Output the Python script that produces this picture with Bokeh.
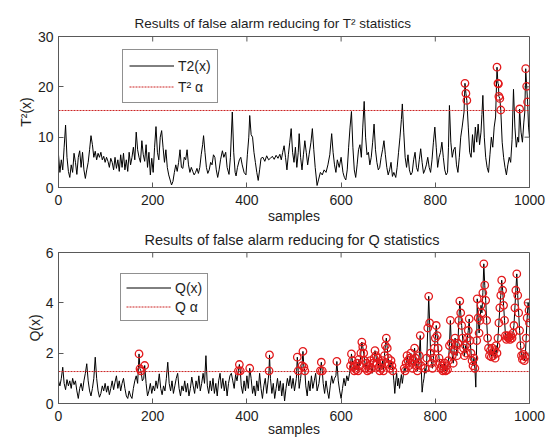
from bokeh.plotting import figure
from bokeh.models import Range1d, FixedTicker, Legend, LegendItem
from bokeh.layouts import column
from bokeh.embed import file_html
from bokeh.resources import INLINE

# ---------------- data ----------------
t2_samples = [0, 3, 6, 9, 12, 15, 18, 21, 24, 27, 30, 33, 36, 39, 42, 45, 48, 51, 54, 57,
              60, 63, 66, 69, 72, 75, 78, 81, 84, 87, 90, 93, 96, 99, 102, 105, 108, 111, 114, 117,
              120, 123, 126, 129, 132, 135, 138, 141, 144, 147, 150, 153, 156, 159, 162, 165, 168, 171, 174, 177,
              180, 183, 186, 189, 192, 195, 198, 201, 204, 207, 210, 213, 216, 219, 222, 225, 228, 231, 234, 237,
              240, 243, 246, 249, 252, 255, 258, 261, 264, 267, 270, 273, 276, 279, 282, 285, 288, 291, 294, 297,
              300, 303, 306, 308, 311, 314, 317, 320, 323, 326, 329, 332, 335, 338, 341, 344, 348, 351, 355, 358,
              362, 365, 369, 372, 375, 377, 380, 384, 387, 390, 394, 398, 401, 404, 406, 409, 412, 415, 418, 421,
              424, 427, 430, 434, 438, 442, 446, 450, 454, 458, 462, 466, 470, 473, 476, 479, 482, 485, 488, 491,
              494, 497, 500, 503, 506, 509, 511, 514, 517, 520, 523, 526, 529, 532, 536, 539, 542, 545, 549, 552,
              556, 560, 564, 568, 572, 576, 580, 583, 586, 589, 592, 596, 600, 604, 607, 610, 613, 616, 619, 622,
              625, 628, 631, 634, 637, 640, 643, 646, 649, 652, 655, 658, 661, 664, 667, 670, 673, 676, 679, 682,
              685, 688, 691, 694, 697, 700, 703, 706, 709, 712, 716, 719, 722, 725, 728, 730, 733, 736, 739, 742,
              745, 748, 751, 754, 757, 760, 763, 766, 769, 772, 775, 778, 781, 784, 787, 790, 793, 796, 799, 802,
              805, 808, 811, 814, 817, 820, 823, 826, 828, 830, 833, 836, 839, 842, 845, 848, 851, 854, 857, 861,
              863, 865, 867, 870, 873, 876, 879, 882, 885, 888, 891, 894, 897, 899, 901, 904, 907, 910, 913, 916,
              919, 922, 925, 928, 931, 933, 934, 935, 937, 939, 942, 945, 948, 951, 954, 957, 960, 963, 966, 969,
              972, 975, 977, 979, 982, 985, 988, 990, 992, 994, 996, 998, 1000]
t2_values = [6.5, 3.0, 5.5, 3.5, 8.0, 12.4, 6.0, 3.2, 2.0, 4.5, 3.0, 6.8, 5.0, 2.6, 6.0, 7.3, 4.0, 7.0, 3.5, 1.8,
             3.5, 5.0, 7.5, 10.3, 8.5, 6.0, 7.2, 5.5, 6.8, 6.0, 7.0, 5.5, 6.2, 5.0, 6.0, 5.2, 4.0, 5.8, 5.0, 3.5,
             6.0, 3.8, 5.5, 3.2, 6.5, 4.0, 6.8, 3.5, 5.5, 3.2, 7.0, 4.5, 6.0, 8.0, 5.5, 11.0, 7.5, 6.0, 5.0, 9.3,
             6.5, 5.2, 8.5, 4.0, 7.0, 2.5, 5.8, 3.0, 8.0, 12.1, 7.0, 5.5, 10.0, 11.3, 8.0, 5.0, 7.5, 4.0, 2.5, 1.5,
             0.5, 1.2, 3.0, 4.5, 3.2, 5.0, 7.5, 4.0, 3.8, 6.0, 5.5, 7.5, 4.5, 3.0, 4.0, 3.2, 2.5, 3.0, 3.8, 2.8,
             4.0, 6.5, 8.5, 10.3, 7.0, 4.0, 2.8, 3.5, 5.0, 4.5, 6.5, 6.0, 3.5, 2.0, 3.5, 5.5, 7.3, 6.0, 7.0, 4.0,
             2.6, 6.0, 15.0, 7.0, 3.0, 2.3, 4.0, 5.5, 6.0, 4.5, 3.0, 2.5, 6.5, 10.0, 14.3, 10.5, 10.0, 7.0, 5.0, 3.0,
             1.4, 3.5, 5.8, 6.0, 5.2, 6.3, 5.5, 5.8, 6.2, 5.6, 6.4, 5.8, 6.6, 5.5, 7.0, 8.3, 6.0, 3.5, 6.5, 9.0,
             11.7, 7.0, 5.0, 8.0, 4.0, 7.0, 10.7, 6.0, 3.5, 6.5, 9.3, 7.0, 4.5, 6.5, 9.0, 11.7, 7.5, 4.0, 0.4, 1.5,
             3.0, 2.5, 3.5, 3.0, 4.5, 6.5, 10.7, 7.0, 4.5, 3.0, 5.5, 4.0, 6.0, 3.0, 2.0, 1.5, 3.5, 8.0, 12.0, 15.1,
             8.0, 3.5, 2.0, 4.5, 7.5, 8.5, 6.0, 12.0, 17.1, 10.0, 6.5, 7.0, 4.5, 6.0, 9.0, 12.6, 7.5, 5.0, 3.5, 4.0,
             6.0, 7.5, 9.3, 6.5, 4.0, 2.5, 3.5, 5.0, 2.2, 3.0, 2.0, 4.0, 7.0, 10.0, 13.5, 16.6, 11.0, 6.0, 4.0, 6.5,
             3.5, 2.5, 3.0, 5.5, 7.0, 4.0, 3.2, 5.5, 7.7, 5.0, 2.8, 3.5, 4.5, 6.0, 4.0, 3.0, 5.5, 9.0, 12.0, 8.0,
             4.0, 6.0, 7.0, 9.0, 6.0, 3.5, 2.5, 3.0, 8.0, 16.3, 9.0, 6.0, 7.5, 8.0, 4.5, 3.0, 6.0, 10.0, 12.0, 15.0,
             20.7, 18.7, 17.3, 12.0, 7.0, 6.0, 10.5, 7.0, 12.0, 9.0, 12.6, 8.5, 11.0, 14.5, 18.3, 10.0, 6.0, 4.0, 3.0, 6.5,
             10.0, 8.0, 12.0, 14.0, 23.9, 20.7, 20.6, 18.1, 17.7, 15.4, 9.0, 6.0, 4.0, 2.5, 4.5, 6.0, 5.0, 9.5, 19.5, 12.0,
             8.0, 10.0, 9.0, 15.6, 11.0, 9.0, 13.0, 15.0, 23.6, 20.1, 17.0, 12.0, 10.0]
t2_limit = 15.3
t2_rejected = [649, 730, 830, 901, 966]

q_samples = [0, 3, 6, 9, 12, 15, 18, 21, 24, 27, 30, 33, 36, 39, 42, 45, 48, 51, 54, 57,
             60, 63, 66, 69, 72, 75, 78, 81, 84, 87, 90, 93, 96, 99, 102, 105, 108, 111, 114, 117,
             120, 123, 126, 129, 132, 135, 138, 141, 144, 147, 150, 153, 156, 159, 162, 165, 168, 171, 173, 175,
             178, 181, 183, 186, 189, 192, 195, 198, 201, 204, 207, 210, 214, 217, 220, 223, 226, 229, 232, 235,
             238, 241, 244, 247, 250, 253, 256, 259, 262, 265, 268, 271, 274, 277, 280, 283, 286, 289, 292, 295,
             298, 301, 304, 307, 310, 313, 316, 319, 322, 325, 328, 331, 334, 337, 340, 343, 346, 349, 352, 355,
             358, 361, 364, 367, 370, 373, 376, 379, 382, 384, 386, 388, 391, 394, 397, 400, 403, 406, 409, 412,
             415, 418, 421, 424, 427, 430, 433, 436, 439, 442, 445, 447, 448, 450, 453, 456, 459, 462, 465, 468,
             471, 474, 477, 480, 483, 486, 489, 492, 495, 498, 501, 505, 507, 509, 511, 514, 517, 519, 521, 523,
             525, 528, 531, 534, 537, 540, 543, 546, 549, 553, 556, 558, 560, 562, 565, 568, 571, 574, 577, 580,
             583, 586, 589, 591, 594, 597, 600, 603, 606, 609, 612, 615, 618,
             620, 622, 624, 626, 628, 630, 632, 634, 636, 638, 640, 642, 644, 646, 648, 650, 652, 654, 656, 658,
             660, 662, 664, 666, 668, 670, 672, 674, 676, 678, 680, 682, 684, 686, 688, 690, 692, 694, 696, 698,
             700, 702, 704, 706, 708, 710, 712, 714, 716, 718, 720, 722, 724, 726, 728, 730, 732, 734, 736, 738,
             740, 742, 744, 746, 748, 750, 752, 754, 756, 758, 760, 762, 764, 766, 768, 770, 772, 774, 776, 778,
             780, 782, 784, 786, 788, 790, 792, 794, 796, 798, 800, 802, 804, 806, 808, 810, 812, 814, 816, 818,
             820, 822, 824, 826, 828, 830, 832, 834, 836, 838, 840, 842, 844, 846, 848, 850, 852, 854, 856, 858,
             860, 862, 864, 866, 868, 870, 872, 874, 876, 878, 880, 882, 884, 886, 888, 889, 891, 893, 895, 897,
             899, 901, 903, 905, 907, 909, 911, 913, 915, 917, 919, 921, 923, 925, 927, 929, 931, 933, 935, 937,
             939, 941, 943, 945, 947, 949, 951, 953, 955, 957, 959, 961, 963, 965, 967, 969, 971, 973, 975, 977,
             979, 981, 983, 985, 987, 989, 991, 993, 995, 997, 999, 1000]
q_values = [0.9, 0.7, 1.0, 1.44, 0.8, 0.55, 0.95, 0.7, 0.9, 0.6, 1.0, 0.75, 0.9, 0.5, 0.2, 0.6, 0.8, 0.5, 0.9, 1.2,
            1.58, 0.9, 0.5, 0.3, 0.6, 1.0, 1.84, 1.0, 0.5, 0.25, 0.4, 0.7, 0.5, 0.8, 0.45, 0.7, 0.35, 0.6, 0.9, 0.55,
            0.85, 1.1, 0.6, 0.9, 0.5, 0.8, 1.0, 0.6, 0.3, 0.2, 0.5, 0.3, 0.2, 0.6, 0.9, 1.1, 0.8, 1.97, 1.38, 1.3,
            0.9, 1.0, 1.51, 0.8, 0.3, 0.5, 0.8, 0.4, 0.7, 0.5, 0.9, 0.6, 1.18, 0.6, 0.35, 0.7, 0.5, 1.0, 1.64, 0.8,
            0.5, 0.9, 0.4, 0.7, 1.0, 1.2, 0.6, 0.3, 0.7, 0.5, 0.9, 0.45, 0.8, 0.3, 0.6, 1.05, 0.7, 0.4, 0.9, 0.6,
            1.1, 0.5, 0.8, 1.2, 0.8, 1.9, 0.7, 0.4, 0.9, 0.5, 1.0, 0.4, 0.8, 0.3, 0.9, 1.2, 0.6, 1.0, 0.5, 0.9,
            0.3, 0.8, 1.1, 1.2, 0.9, 0.6, 1.15, 0.9, 1.3, 1.55, 1.3, 0.7, 0.4, 0.9, 0.5, 1.1, 0.6, 1.4, 1.0, 0.4,
            0.7, 0.3, 0.9, 0.5, 1.2, 0.6, 0.2, 0.7, 1.0, 0.4, 0.9, 1.3, 1.93, 1.0, 0.4, 0.8, 0.2, 0.6, 1.0, 0.5,
            0.9, 0.3, 0.8, 0.1, 0.6, 1.0, 0.7, 1.1, 0.6, 1.0, 0.5, 1.0, 1.84, 1.3, 0.6, 1.0, 1.5, 2.07, 1.45, 1.3,
            0.7, 0.3, 0.9, 0.5, 1.1, 0.6, 0.9, 1.2, 0.5, 0.8, 1.3, 1.64, 1.3, 0.8, 0.4, 0.9, 0.5, 0.2, 0.7, 1.1,
            0.8, 1.0, 1.1, 1.67, 0.9, 0.5, 0.2, 0.6, 1.0, 0.7, 1.1, 0.9, 1.2,
            1.5, 1.97, 1.7, 1.45, 1.3, 1.5, 1.35, 1.6, 1.3, 1.75, 1.5, 2.0, 2.44, 2.25, 2.0, 1.7, 1.4, 1.6, 1.3, 1.5,
            1.35, 1.7, 1.4, 1.2, 1.6, 1.8, 2.1, 1.9, 1.6, 1.8, 1.45, 1.3, 1.6, 1.4, 1.7, 1.3, 1.9, 2.3, 2.6, 2.2,
            1.8, 1.55, 1.4, 1.7, 1.5, 1.3, 0.9, 0.4, 0.9, 1.2, 0.7, 1.0, 0.6, 0.9, 1.15, 0.8, 1.1, 1.4, 1.3, 1.6,
            1.9, 1.7, 1.5, 1.8, 2.0, 1.6, 1.4, 1.7, 2.2, 1.8, 1.5, 1.3, 1.6, 1.9, 2.7, 1.5, 0.45, 0.8, 1.0, 1.4,
            1.2, 1.8, 3.0, 4.26, 3.2, 2.0, 1.6, 1.4, 1.8, 2.2, 2.6, 3.1, 2.7, 2.2, 1.8, 1.6, 1.4, 1.5, 1.3, 1.35,
            1.6, 1.3, 1.5, 1.35, 1.7, 2.3, 3.3, 2.4, 1.9, 1.6, 2.1, 2.6, 2.3, 1.9, 2.4, 3.3, 4.07, 3.6, 3.1, 2.6,
            2.2, 1.9, 2.3, 2.0, 2.6, 2.9, 3.36, 2.5, 2.0, 1.7, 1.5, 1.8, 1.4, 0.65, 2.5, 4.16, 3.4, 2.8, 3.3, 3.9,
            3.6, 4.4, 5.55, 4.7, 4.1, 3.3, 2.6, 2.2, 1.9, 2.1, 1.85, 2.2, 1.9, 2.1, 1.8, 2.3, 2.0, 2.6, 3.2, 3.8,
            4.3, 4.9, 4.5, 3.9, 3.3, 2.7, 2.55, 2.7, 2.6, 2.65, 2.55, 2.7, 2.6, 2.8, 3.1, 3.8, 4.5, 5.15, 4.3, 3.6,
            2.9, 2.3, 1.9, 1.75, 1.95, 1.7, 1.85, 2.6, 3.4, 4.0, 3.7, 3.2]
q_limit = 1.27
q_rejected = [9, 60, 78, 232, 313]

x_ticks = [0, 200, 400, 600, 800, 1000]
t2_ticks = [0, 10, 20, 30]
q_ticks = [0, 2, 4, 6]

# ---------------- styling ----------------
FONT = "Liberation Sans"
GRAY = "#595959"
TXT = "#1e1e1e"
RED = "#e31a1c"
LIMIT_RED = "#cc2222"
FRAME_W = 471
FRAME_H = 151
TICK_PX = 5


def style_axis(ax, ticks):
    ax.ticker = FixedTicker(ticks=ticks)
    ax.axis_line_color = GRAY
    ax.major_tick_line_color = GRAY
    ax.major_tick_in = TICK_PX
    ax.major_tick_out = 0
    ax.minor_tick_line_color = None
    ax.major_label_text_font = FONT
    ax.major_label_text_font_size = "14px"
    ax.major_label_text_color = TXT
    ax.axis_label_text_font = FONT
    ax.axis_label_text_font_size = "14px"
    ax.axis_label_text_font_style = "normal"
    ax.axis_label_text_color = TXT


def make_panel(samples, values, limit, rejected, yticks, title, title_size, title_offset,
               title_standoff, title_valign, ylabel, line_label, limit_label, legend_xy, height,
               border_top, border_bottom, ylabel_standoff, xlabel_standoff,
               xmajor_standoff, leg_h, leg_pad, leg_sp):
    xmin, xmax = x_ticks[0], x_ticks[-1]
    ymin, ymax = yticks[0], yticks[-1]
    p = figure(width=548, height=height, output_backend="svg", toolbar_location=None,
               x_range=Range1d(xmin, xmax), y_range=Range1d(ymin, ymax),
               min_border_left=58, min_border_right=19,
               min_border_top=border_top, min_border_bottom=border_bottom)
    p.grid.visible = False
    p.outline_line_color = GRAY
    p.background_fill_color = "white"
    p.border_fill_color = "white"

    style_axis(p.xaxis[0], x_ticks)
    style_axis(p.yaxis[0], yticks)
    p.xaxis[0].axis_label = "samples"
    p.xaxis[0].major_label_standoff = xmajor_standoff
    p.xaxis[0].axis_label_standoff = xlabel_standoff
    p.yaxis[0].axis_label = ylabel
    p.yaxis[0].major_label_standoff = 5
    p.yaxis[0].axis_label_standoff = ylabel_standoff

    # inward tick marks on the top and right edges of the box
    dy = TICK_PX / FRAME_H * (ymax - ymin)
    dx = TICK_PX / FRAME_W * (xmax - xmin)
    p.segment(x0=x_ticks, y0=[ymax] * len(x_ticks), x1=x_ticks, y1=[ymax - dy] * len(x_ticks),
              line_color=GRAY, line_width=1)
    p.segment(x0=[xmax] * len(yticks), y0=yticks, x1=[xmax - dx] * len(yticks), y1=yticks,
              line_color=GRAY, line_width=1)

    p.title.text = title
    p.title.text_font = FONT
    p.title.text_font_size = title_size
    p.title.text_font_style = "normal"
    p.title.text_color = TXT
    p.title.align = "left"
    p.title.vertical_align = title_valign
    p.title.offset = title_offset
    p.title.standoff = title_standoff

    r_line = p.line(samples, values, line_color="black", line_width=1)
    r_lim = p.line([samples[0], samples[-1]], [limit, limit], line_color=LIMIT_RED,
                   line_width=1, line_dash="2 1")
    ax_x = [s for s, v in zip(samples, values) if v > limit and s not in rejected]
    ax_y = [v for s, v in zip(samples, values) if v > limit and s not in rejected]
    p.scatter(ax_x, ax_y, marker="circle", size=7.5, fill_color=None,
              line_color=RED, line_width=1.3)

    legend = Legend(items=[LegendItem(label=line_label, renderers=[r_line]),
                           LegendItem(label=limit_label, renderers=[r_lim])],
                    location=legend_xy, margin=0, padding=leg_pad, spacing=leg_sp,
                    glyph_width=45, glyph_height=leg_h, label_height=leg_h,
                    label_standoff=4,
                    label_text_font=FONT, label_text_font_size="14px",
                    label_text_color=TXT,
                    border_line_color="#222222", border_line_width=1,
                    background_fill_color="white", background_fill_alpha=1)
    p.add_layout(legend)
    return p


p1 = make_panel(t2_samples, t2_values, t2_limit, t2_rejected, t2_ticks,
                "Results of false alarm reducing for T\u00b2 statistics", "13.5px", 76, 8, "top",
                "T\u00b2(x)", "T2(x)", "T\u00b2 \u03b1", (64, 84), 227, 36, 40, 1, 0, 7, 19, 6, 2)
p2 = make_panel(q_samples, q_values, q_limit, q_rejected, q_ticks,
                "Results of false alarm reducing for Q statistics", "14.5px", 86, 6, "top",
                "Q(x)", "Q(x)", "Q \u03b1", (62, 82), 213, 25, 37, 0, -3, 7, 17, 5, 2)

layout = column(p1, p2, spacing=0)
open("out.html", "w").write(file_html(layout, INLINE))
